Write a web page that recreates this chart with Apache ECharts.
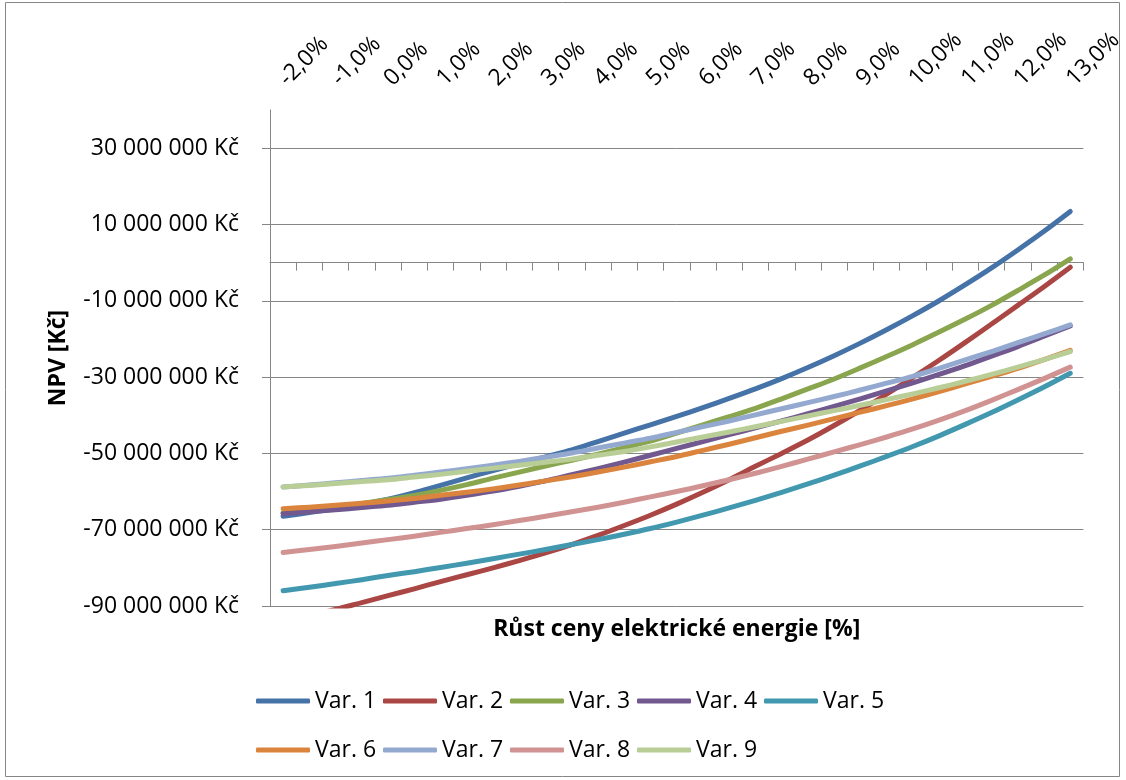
<!DOCTYPE html>
<html>
<head>
<meta charset="utf-8">
<script src="https://cdn.jsdelivr.net/npm/echarts@6/dist/echarts.min.js"></script>
<style>
  html, body { margin: 0; padding: 0; background: #fff; }
  #chart { width: 1126px; height: 780px; }
</style>
</head>
<body>
<div id="chart"></div>
<script>
// Categories: growth of electricity price, -2 % .. 13 % in 0.5 % steps
const categories = ['-2,0%','-1,5%','-1,0%','-0,5%','0,0%','0,5%','1,0%','1,5%','2,0%','2,5%','3,0%','3,5%','4,0%','4,5%','5,0%','5,5%','6,0%','6,5%','7,0%','7,5%','8,0%','8,5%','9,0%','9,5%','10,0%','10,5%','11,0%','11,5%','12,0%','12,5%','13,0%'];

// NPV values in millions of Kč
const var1 = [-66.5,-65.5,-64.5,-63.4,-62.0,-60.3,-58.4,-56.4,-54.5,-52.7,-50.9,-49.1,-46.9,-44.7,-42.5,-40.3,-38.0,-35.6,-33.1,-30.4,-27.5,-24.4,-21.1,-17.6,-13.9,-10.0,-5.8,-1.4,3.3,8.2,13.4];
const var2 = [-94.1,-92.5,-90.9,-89.1,-87.3,-85.5,-83.6,-81.8,-80.0,-78.1,-76.1,-73.9,-71.5,-68.9,-66.2,-63.3,-60.2,-56.9,-53.4,-50.0,-46.5,-42.7,-38.7,-34.5,-30.1,-25.6,-20.9,-16.1,-11.2,-6.3,-1.2];
const var3 = [-65.6,-64.8,-64.0,-63.1,-62.1,-61.0,-59.7,-58.2,-56.5,-54.9,-53.3,-51.8,-50.2,-48.5,-46.8,-44.7,-42.5,-40.4,-38.2,-35.7,-33.1,-30.5,-27.6,-24.6,-21.5,-18.2,-14.8,-11.2,-7.3,-3.3,1.0];
const var4 = [-65.8,-65.3,-64.8,-64.2,-63.6,-62.8,-62.0,-61.0,-59.9,-58.6,-57.2,-55.6,-54.0,-52.3,-50.5,-48.7,-46.9,-45.1,-43.3,-41.5,-39.6,-37.7,-35.7,-33.6,-31.5,-29.3,-27.0,-24.5,-22.0,-19.3,-16.6];
const var5 = [-86.0,-85.1,-84.1,-83.1,-82.0,-81.0,-79.9,-78.8,-77.6,-76.4,-75.2,-73.9,-72.6,-71.2,-69.7,-68.0,-66.2,-64.3,-62.3,-60.2,-58.0,-55.7,-53.3,-50.8,-48.2,-45.4,-42.4,-39.3,-36.0,-32.6,-29.0];
const var6 = [-64.5,-64.1,-63.6,-63.1,-62.5,-61.8,-61.0,-60.2,-59.3,-58.3,-57.2,-56.1,-54.9,-53.6,-52.2,-50.8,-49.2,-47.6,-45.9,-44.2,-42.6,-40.9,-39.2,-37.5,-35.7,-33.8,-31.8,-29.8,-27.7,-25.4,-23.0];
const var7 = [-58.8,-58.3,-57.7,-57.1,-56.5,-55.7,-54.9,-54.0,-53.1,-52.1,-51.0,-49.9,-48.6,-47.3,-46.0,-44.5,-43.0,-41.5,-39.9,-38.3,-36.7,-35.1,-33.4,-31.6,-29.8,-27.7,-25.5,-23.3,-21.0,-18.7,-16.3];
const var8 = [-76.0,-75.2,-74.4,-73.5,-72.6,-71.7,-70.7,-69.7,-68.7,-67.6,-66.5,-65.3,-64.1,-62.8,-61.4,-60.0,-58.5,-56.9,-55.2,-53.4,-51.5,-49.6,-47.7,-45.7,-43.6,-41.3,-38.8,-36.1,-33.3,-30.4,-27.4];
const var9 = [-58.8,-58.4,-57.9,-57.4,-56.9,-56.2,-55.5,-54.7,-53.9,-53.1,-52.3,-51.5,-50.5,-49.5,-48.3,-47.0,-45.7,-44.4,-43.0,-41.6,-40.2,-38.8,-37.4,-35.9,-34.4,-32.8,-31.1,-29.3,-27.4,-25.4,-23.3];

// Y tick values (millions of Kč)
const yTicks = [-90, -70, -50, -30, -10, 10, 30];

const seriesNames = ['Var. 1','Var. 2','Var. 3','Var. 4','Var. 5','Var. 6','Var. 7','Var. 8','Var. 9'];
const seriesData = [var1, var2, var3, var4, var5, var6, var7, var8, var9];
const colors = ['#4572A7','#AA4643','#89A54E','#71588F','#4198AF','#DB843D','#93A9CF','#D19392','#B9CD96'];

const FONT = 'Open Sans';
const axisGray = '#868686';

const chart = echarts.init(document.getElementById('chart'), null, { renderer: 'canvas' });

const legendCommon = {
  orient: 'horizontal',
  left: 251,
  icon: 'roundRect',
  itemWidth: 54,
  itemHeight: 5,
  itemGap: 6,
  selectedMode: false,
  textStyle: { fontFamily: FONT, fontSize: 23, color: '#000', width: 62, lineHeight: 28 }
};

chart.setOption({
  animation: false,
  color: colors,
  textStyle: { fontFamily: FONT },
  graphic: [{
    type: 'rect',
    shape: { x: 5.5, y: 2.5, width: 1114, height: 774 },
    style: { fill: 'none', stroke: axisGray, lineWidth: 1 },
    silent: true
  }],
  grid: { left: 270, right: 38, top: 110, bottom: 174, containLabel: false },
  legend: [
    Object.assign({}, legendCommon, { top: 682, data: seriesNames.slice(0, 5) }),
    Object.assign({}, legendCommon, { top: 731, data: seriesNames.slice(5) })
  ],
  xAxis: [
    {
      type: 'category', data: categories, position: 'bottom', boundaryGap: true,
      axisLine: { show: true, onZero: true, lineStyle: { color: axisGray, width: 1 } },
      axisTick: { show: true, interval: 0, length: 8, alignWithLabel: false, lineStyle: { color: axisGray } },
      axisLabel: { show: false },
      splitLine: { show: false }
    },
    {
      type: 'category', data: categories, position: 'top', boundaryGap: true,
      axisLine: { show: false, onZero: false },
      axisTick: { show: false },
      axisLabel: { show: true, interval: 1, rotate: -45, margin: 28, fontSize: 23, color: '#000', fontFamily: FONT },
      splitLine: { show: false }
    },
    {
      type: 'category', data: categories, position: 'bottom', boundaryGap: true,
      axisLine: { show: false, onZero: false },
      axisTick: { show: false },
      axisLabel: { show: false },
      splitLine: { show: false },
      name: 'Růst ceny elektrické energie [%]',
      nameLocation: 'middle', nameGap: 12,
      nameTextStyle: { fontFamily: FONT, fontSize: 23, fontWeight: 'bold', color: '#000', verticalAlign: 'top' }
    }
  ],
  yAxis: {
    type: 'value', min: -90, max: 40,
    axisLine: { show: true, lineStyle: { color: axisGray, width: 1 } },
    axisTick: { show: true, length: 8, customValues: yTicks, lineStyle: { color: axisGray } },
    axisLabel: {
      customValues: yTicks, margin: 31, fontSize: 23, color: '#000', fontFamily: FONT,
      formatter: function (v) { return v + ' 000 000 Kč'; }
    },
    splitLine: { show: true, lineStyle: { color: axisGray, width: 1 } },
    name: 'NPV [Kč]', nameLocation: 'middle', nameGap: 200,
    nameTextStyle: { fontFamily: FONT, fontSize: 23, fontWeight: 'bold', color: '#000' }
  },
  series: seriesNames.map(function (name, i) {
    return {
      name: name, type: 'line', xAxisIndex: 0, yAxisIndex: 0,
      data: seriesData[i], smooth: 0.3, showSymbol: false, symbol: 'none',
      clip: true,
      lineStyle: { width: 5, color: colors[i], cap: 'round', join: 'round' },
      itemStyle: { color: colors[i] },
      emphasis: { disabled: true }
    };
  })
});
</script>
</body>
</html>
